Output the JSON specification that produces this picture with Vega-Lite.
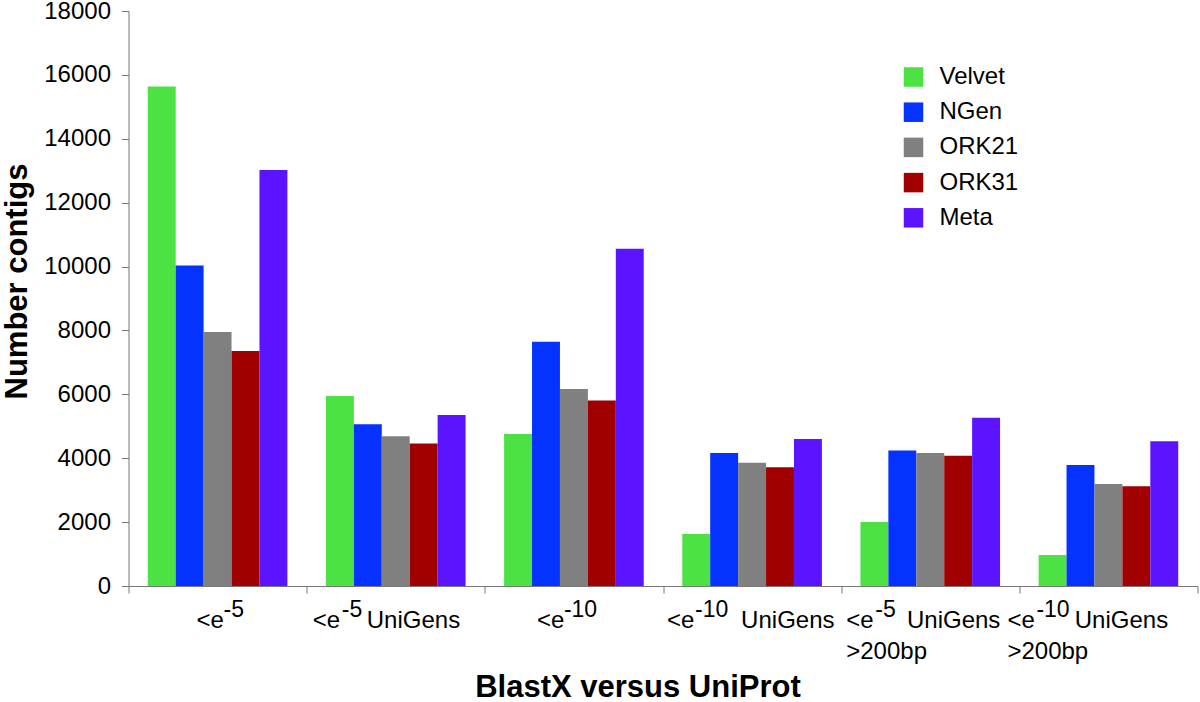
{
  "$schema": "https://vega.github.io/schema/vega-lite/v6.json",
  "width": 1069,
  "height": 575,
  "autosize": "none",
  "padding": {"left": 128.5, "top": 11, "right": 2.5, "bottom": 116},
  "background": "white",
  "config": {
    "view": {"stroke": null},
    "font": "Liberation Sans",
    "axis": {"grid": false, "domainColor": "#777777", "tickColor": "#777777", "labelColor": "#000000", "titleColor": "#000000", "labelFont": "Liberation Sans", "titleFont": "Liberation Sans"}
  },
  "data": {"values": [
    {"threshold": "<e-5", "assembler": "Velvet", "contigs": 15640},
    {"threshold": "<e-5", "assembler": "NGen", "contigs": 10030},
    {"threshold": "<e-5", "assembler": "ORK21", "contigs": 7950},
    {"threshold": "<e-5", "assembler": "ORK31", "contigs": 7360},
    {"threshold": "<e-5", "assembler": "Meta", "contigs": 13020},
    {"threshold": "<e-5 UniGens", "assembler": "Velvet", "contigs": 5950},
    {"threshold": "<e-5 UniGens", "assembler": "NGen", "contigs": 5060},
    {"threshold": "<e-5 UniGens", "assembler": "ORK21", "contigs": 4690},
    {"threshold": "<e-5 UniGens", "assembler": "ORK31", "contigs": 4460},
    {"threshold": "<e-5 UniGens", "assembler": "Meta", "contigs": 5350},
    {"threshold": "<e-10", "assembler": "Velvet", "contigs": 4760},
    {"threshold": "<e-10", "assembler": "NGen", "contigs": 7650},
    {"threshold": "<e-10", "assembler": "ORK21", "contigs": 6170},
    {"threshold": "<e-10", "assembler": "ORK31", "contigs": 5810},
    {"threshold": "<e-10", "assembler": "Meta", "contigs": 10560},
    {"threshold": "<e-10 UniGens", "assembler": "Velvet", "contigs": 1630},
    {"threshold": "<e-10 UniGens", "assembler": "NGen", "contigs": 4160},
    {"threshold": "<e-10 UniGens", "assembler": "ORK21", "contigs": 3860},
    {"threshold": "<e-10 UniGens", "assembler": "ORK31", "contigs": 3720},
    {"threshold": "<e-10 UniGens", "assembler": "Meta", "contigs": 4600},
    {"threshold": "<e-5 UniGens >200bp", "assembler": "Velvet", "contigs": 2000},
    {"threshold": "<e-5 UniGens >200bp", "assembler": "NGen", "contigs": 4240},
    {"threshold": "<e-5 UniGens >200bp", "assembler": "ORK21", "contigs": 4160},
    {"threshold": "<e-5 UniGens >200bp", "assembler": "ORK31", "contigs": 4080},
    {"threshold": "<e-5 UniGens >200bp", "assembler": "Meta", "contigs": 5270},
    {"threshold": "<e-10 UniGens >200bp", "assembler": "Velvet", "contigs": 970},
    {"threshold": "<e-10 UniGens >200bp", "assembler": "NGen", "contigs": 3790},
    {"threshold": "<e-10 UniGens >200bp", "assembler": "ORK21", "contigs": 3190},
    {"threshold": "<e-10 UniGens >200bp", "assembler": "ORK31", "contigs": 3120},
    {"threshold": "<e-10 UniGens >200bp", "assembler": "Meta", "contigs": 4530}
  ]},
  "layer": [
    {
      "mark": {"type": "bar"},
      "encoding": {
        "x": {
          "field": "threshold", "type": "nominal", "sort": null,
          "scale": {"paddingInner": 0, "paddingOuter": 0},
          "axis": {
            "orient": "bottom",
            "title": "BlastX versus UniProt",
            "titleFontSize": 31, "titleFontWeight": "bold",
            "titleX": 509, "titleY": 110, "titleBaseline": "alphabetic", "titleAlign": "center",
            "labelExpr": "datum.value === '<e-5' ? '<e' : datum.value === '<e-5 UniGens' ? '<e\u00a0\u00a0\u00a0\u00a0UniGens' : datum.value === '<e-10' ? '<e' : datum.value === '<e-10 UniGens' ? '<e\u00a0\u00a0\u00a0\u00a0\u00a0\u00a0\u00a0UniGens' : datum.value === '<e-5 UniGens >200bp' ? ['<e\u00a0\u00a0\u00a0\u00a0\u00a0UniGens', '>200bp'] : ['<e\u00a0\u00a0\u00a0\u00a0\u00a0\u00a0UniGens', '>200bp']",
            "labelAngle": 0, "labelAlign": "left", "labelBaseline": "top",
            "labelFontSize": 24, "labelLineHeight": 31, "labelPadding": 22,
            "labelOffset": {"condition": [
              {"test": "datum.value === '<e-5'", "value": -21},
              {"test": "datum.value === '<e-5 UniGens'", "value": -83},
              {"test": "datum.value === '<e-10'", "value": -37},
              {"test": "datum.value === '<e-10 UniGens'", "value": -85},
              {"test": "datum.value === '<e-5 UniGens >200bp'", "value": -84}
            ], "value": -101},
            "labelOverlap": false, "labelBound": false, "labelFlush": false, "labelLimit": 400,
            "ticks": false, "tickSize": 0, "domain": true, "grid": false
          }
        },
        "xOffset": {"field": "assembler", "type": "nominal", "sort": ["Velvet", "NGen", "ORK21", "ORK31", "Meta"], "scale": {"paddingInner": 0, "paddingOuter": 0.69}},
        "y": {
          "field": "contigs", "type": "quantitative",
          "scale": {"domain": [0, 18000], "nice": false},
          "axis": {
            "title": "Number contigs", "titleFontSize": 31, "titleFontWeight": "bold",
            "titleX": -102, "titleY": 270, "titleAngle": -90, "titleBaseline": "alphabetic", "titleAlign": "center",
            "values": [0, 2000, 4000, 6000, 8000, 10000, 12000, 14000, 16000, 18000],
            "format": "d", "labelFontSize": 24, "labelPadding": 11, "tickSize": 7, "grid": false
          }
        },
        "color": {
          "field": "assembler", "type": "nominal",
          "scale": {"domain": ["Velvet", "NGen", "ORK21", "ORK31", "Meta"], "range": ["#4CE244", "#0433FF", "#808080", "#A00000", "#5B14FF"]},
          "legend": {
            "title": null, "orient": "none", "legendX": 773, "legendY": 54,
            "symbolType": "square", "symbolSize": 380, "symbolStrokeWidth": 0, "symbolOpacity": 1,
            "labelFontSize": 24, "labelOffset": 14, "rowPadding": 11.2, "padding": 0,
            "labelColor": "#000000", "labelFont": "Liberation Sans"
          }
        }
      }
    },
    {
      "mark": {"type": "bar", "opacity": 0},
      "encoding": {
        "x": {
          "field": "threshold", "type": "nominal", "sort": null,
          "axis": {
            "orient": "bottom", "title": null,
            "domain": false, "ticks": false, "tickSize": 0, "grid": false,
            "labelExpr": "indexof(datum.value, '-10') >= 0 ? '-10' : '-5'",
            "labelAngle": 0, "labelAlign": "left", "labelBaseline": "top",
            "labelFontSize": 23, "labelPadding": 12,
            "labelOffset": {"condition": [
              {"test": "datum.value === '<e-5'", "value": 6},
              {"test": "datum.value === '<e-5 UniGens'", "value": -54},
              {"test": "datum.value === '<e-10'", "value": -10},
              {"test": "datum.value === '<e-10 UniGens'", "value": -57},
              {"test": "datum.value === '<e-5 UniGens >200bp'", "value": -55}
            ], "value": -72},
            "labelOverlap": false, "labelBound": false, "labelFlush": false
          }
        },
        "xOffset": {"field": "assembler", "type": "nominal", "sort": ["Velvet", "NGen", "ORK21", "ORK31", "Meta"]},
        "y": {"field": "contigs", "type": "quantitative", "axis": null}
      }
    },
    {
      "mark": {"type": "bar", "opacity": 0},
      "encoding": {
        "x": {
          "field": "threshold", "type": "nominal", "sort": null,
          "axis": {
            "orient": "bottom", "title": null,
            "domain": false, "labels": false, "ticks": true, "tickSize": 7, "tickBand": "extent", "grid": false
          }
        },
        "xOffset": {"field": "assembler", "type": "nominal", "sort": ["Velvet", "NGen", "ORK21", "ORK31", "Meta"]},
        "y": {"field": "contigs", "type": "quantitative", "axis": null}
      }
    }
  ],
  "resolve": {"axis": {"x": "independent", "y": "independent"}}
}
